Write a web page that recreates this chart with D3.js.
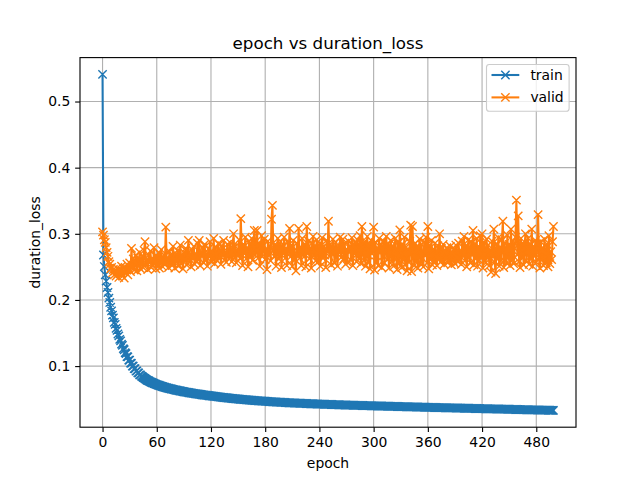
<!DOCTYPE html>
<html><head><meta charset="utf-8">
<script src="https://cdn.jsdelivr.net/npm/d3@7"></script>
<style>body{margin:0;background:#fff}svg{display:block}text{font-family:"DejaVu Sans",sans-serif;fill:#000}</style>
</head><body><svg id="c" width="640" height="480"></svg>
<script>
const chartTitle = "epoch vs duration_loss";
const xLabel = "epoch";
const yLabel = "duration_loss";
const seriesNames = ["train", "valid"];
const xTicks = [0, 60, 120, 180, 240, 300, 360, 420, 480];
const yTicks = [0.1, 0.2, 0.3, 0.4, 0.5];
const trainLoss = [
0.5410,0.2680,0.2505,0.2378,0.2285,0.2188,0.2112,0.2027,0.1962,0.1889,
0.1834,0.1770,0.1729,0.1660,0.1631,0.1570,0.1539,0.1485,0.1456,0.1403,
0.1381,0.1333,0.1314,0.1265,0.1247,0.1203,0.1188,0.1143,0.1139,0.1090,
0.1089,0.1044,0.1041,0.1001,0.0999,0.0961,0.0960,0.0925,0.0927,0.0897,
0.0896,0.0868,0.0867,0.0847,0.0843,0.0827,0.0822,0.0809,0.0803,0.0790,
0.0782,0.0778,0.0769,0.0762,0.0756,0.0748,0.0745,0.0737,0.0731,0.0726,
0.0720,0.0716,0.0710,0.0707,0.0700,0.0697,0.0691,0.0688,0.0683,0.0680,
0.0674,0.0672,0.0667,0.0665,0.0660,0.0658,0.0653,0.0651,0.0647,0.0645,
0.0640,0.0638,0.0635,0.0632,0.0629,0.0627,0.0623,0.0621,0.0618,0.0616,
0.0612,0.0611,0.0607,0.0605,0.0602,0.0601,0.0597,0.0595,0.0593,0.0590,
0.0588,0.0587,0.0583,0.0582,0.0579,0.0578,0.0575,0.0574,0.0571,0.0570,
0.0567,0.0566,0.0563,0.0562,0.0560,0.0558,0.0556,0.0555,0.0552,0.0551,
0.0549,0.0548,0.0545,0.0544,0.0542,0.0541,0.0538,0.0537,0.0535,0.0534,
0.0532,0.0531,0.0528,0.0528,0.0525,0.0524,0.0522,0.0521,0.0519,0.0518,
0.0516,0.0515,0.0513,0.0512,0.0510,0.0509,0.0507,0.0506,0.0505,0.0504,
0.0502,0.0501,0.0499,0.0498,0.0497,0.0496,0.0494,0.0493,0.0492,0.0491,
0.0489,0.0488,0.0487,0.0486,0.0485,0.0484,0.0482,0.0482,0.0480,0.0479,
0.0478,0.0477,0.0476,0.0475,0.0474,0.0473,0.0472,0.0471,0.0470,0.0469,
0.0468,0.0467,0.0466,0.0466,0.0464,0.0464,0.0462,0.0462,0.0460,0.0460,
0.0459,0.0458,0.0457,0.0456,0.0455,0.0455,0.0454,0.0453,0.0452,0.0451,
0.0451,0.0450,0.0449,0.0448,0.0448,0.0447,0.0446,0.0446,0.0445,0.0444,
0.0444,0.0443,0.0442,0.0442,0.0441,0.0440,0.0440,0.0439,0.0438,0.0438,
0.0437,0.0437,0.0436,0.0435,0.0435,0.0434,0.0434,0.0433,0.0432,0.0432,
0.0431,0.0431,0.0430,0.0430,0.0429,0.0428,0.0428,0.0427,0.0427,0.0426,
0.0426,0.0425,0.0425,0.0424,0.0424,0.0423,0.0423,0.0422,0.0422,0.0421,
0.0421,0.0420,0.0420,0.0419,0.0419,0.0418,0.0418,0.0417,0.0417,0.0416,
0.0416,0.0415,0.0415,0.0414,0.0414,0.0414,0.0413,0.0413,0.0412,0.0412,
0.0411,0.0411,0.0410,0.0410,0.0410,0.0409,0.0409,0.0408,0.0408,0.0407,
0.0407,0.0407,0.0406,0.0406,0.0405,0.0405,0.0405,0.0404,0.0404,0.0403,
0.0403,0.0403,0.0402,0.0402,0.0401,0.0401,0.0401,0.0400,0.0400,0.0399,
0.0399,0.0399,0.0398,0.0398,0.0397,0.0397,0.0397,0.0396,0.0396,0.0396,
0.0395,0.0395,0.0394,0.0394,0.0394,0.0393,0.0393,0.0393,0.0392,0.0392,
0.0391,0.0391,0.0391,0.0390,0.0390,0.0390,0.0389,0.0389,0.0388,0.0388,
0.0388,0.0387,0.0387,0.0387,0.0386,0.0386,0.0385,0.0385,0.0385,0.0384,
0.0384,0.0384,0.0383,0.0383,0.0383,0.0382,0.0382,0.0381,0.0381,0.0381,
0.0380,0.0380,0.0380,0.0379,0.0379,0.0379,0.0378,0.0378,0.0377,0.0377,
0.0377,0.0376,0.0376,0.0376,0.0375,0.0375,0.0375,0.0374,0.0374,0.0374,
0.0373,0.0373,0.0373,0.0372,0.0372,0.0372,0.0371,0.0371,0.0371,0.0370,
0.0370,0.0370,0.0369,0.0369,0.0369,0.0368,0.0368,0.0368,0.0367,0.0367,
0.0367,0.0366,0.0366,0.0366,0.0365,0.0365,0.0365,0.0364,0.0364,0.0364,
0.0363,0.0363,0.0363,0.0362,0.0362,0.0362,0.0361,0.0361,0.0361,0.0360,
0.0360,0.0360,0.0359,0.0359,0.0359,0.0358,0.0358,0.0358,0.0357,0.0357,
0.0357,0.0356,0.0356,0.0356,0.0355,0.0355,0.0355,0.0354,0.0354,0.0354,
0.0353,0.0353,0.0353,0.0352,0.0352,0.0352,0.0351,0.0351,0.0351,0.0350,
0.0350,0.0350,0.0349,0.0349,0.0349,0.0348,0.0348,0.0348,0.0347,0.0347,
0.0347,0.0346,0.0346,0.0346,0.0345,0.0345,0.0345,0.0344,0.0344,0.0344,
0.0343,0.0343,0.0343,0.0342,0.0342,0.0342,0.0341,0.0341,0.0341,0.0340,
0.0340,0.0340,0.0339,0.0339,0.0339,0.0338,0.0338,0.0338,0.0337,0.0337,
0.0337,0.0336,0.0336,0.0336,0.0335,0.0335,0.0335,0.0334,0.0334,0.0334,
0.0333,0.0333,0.0333,0.0332,0.0332,0.0332,0.0331,0.0331,0.0331,0.0330
];
const validLoss = [
0.303,0.298,0.291,0.287,0.279,0.272,0.266,0.258,0.254,0.247,
0.249,0.241,0.246,0.238,0.244,0.236,0.248,0.240,0.234,0.245,
0.239,0.251,0.236,0.243,0.233,0.249,0.241,0.254,0.238,0.247,
0.256,0.243,0.278,0.249,0.262,0.245,0.258,0.268,0.244,0.263,
0.251,0.272,0.247,0.259,0.266,0.249,0.275,0.288,0.253,0.261,
0.246,0.268,0.256,0.274,0.249,0.263,0.252,0.279,0.258,0.247,
0.266,0.254,0.271,0.248,0.262,0.276,0.251,0.259,0.268,0.253,
0.310,0.257,0.264,0.249,0.273,0.256,0.267,0.252,0.281,0.261,
0.248,0.269,0.258,0.275,0.251,0.264,0.283,0.255,0.266,0.247,
0.272,0.259,0.278,0.253,0.265,0.290,0.257,0.270,0.250,0.276,
0.262,0.281,0.254,0.268,0.259,0.286,0.264,0.290,0.252,0.273,
0.266,0.279,0.256,0.284,0.261,0.270,0.251,0.277,0.265,0.288,
0.258,0.274,0.262,0.293,0.255,0.280,0.268,0.259,0.285,0.263,
0.276,0.254,0.282,0.267,0.290,0.260,0.273,0.257,0.284,0.269,
0.262,0.287,0.271,0.258,0.279,0.300,0.264,0.281,0.256,0.275,
0.268,0.291,0.263,0.323,0.276,0.252,0.284,0.270,0.295,0.262,
0.279,0.250,0.288,0.271,0.265,0.293,0.260,0.282,0.305,0.268,
0.275,0.305,0.263,0.286,0.251,0.279,0.297,0.266,0.283,0.292,
0.261,0.277,0.246,0.289,0.268,0.282,0.259,0.322,0.343,0.274,
0.266,0.284,0.251,0.279,0.293,0.262,0.275,0.288,0.249,0.281,
0.270,0.295,0.263,0.278,0.252,0.287,0.272,0.308,0.265,0.283,
0.251,0.290,0.274,0.261,0.244,0.286,0.269,0.308,0.263,0.280,
0.252,0.293,0.276,0.265,0.284,0.250,0.311,0.270,0.289,0.262,
0.279,0.248,0.286,0.296,0.267,0.282,0.259,0.291,0.271,0.258,
0.285,0.251,0.278,0.294,0.263,0.281,0.268,0.249,0.290,0.273,
0.319,0.266,0.284,0.253,0.277,0.292,0.270,0.256,0.287,0.275,
0.251,0.283,0.271,0.295,0.264,0.279,0.292,0.262,0.286,0.254,
0.277,0.257,0.289,0.272,0.281,0.260,0.294,0.252,0.283,0.270,
0.286,0.258,0.291,0.275,0.262,0.297,0.255,0.311,0.280,0.260,
0.288,0.251,0.279,0.296,0.258,0.284,0.247,0.290,0.270,0.282,
0.310,0.245,0.287,0.257,0.279,0.252,0.293,0.271,0.284,0.249,
0.276,0.289,0.256,0.281,0.296,0.261,0.285,0.248,0.278,0.290,
0.258,0.282,0.251,0.275,0.293,0.262,0.246,0.287,0.256,0.306,
0.271,0.249,0.284,0.260,0.295,0.253,0.280,0.244,0.277,0.257,
0.289,0.313,0.243,0.311,0.272,0.252,0.286,0.258,0.281,0.248,
0.277,0.292,0.255,0.284,0.263,0.250,0.288,0.267,0.295,0.256,
0.311,0.247,0.283,0.261,0.290,0.253,0.276,0.258,0.286,0.265,
0.252,0.282,0.263,0.300,0.257,0.278,0.260,0.284,0.254,0.274,
0.262,0.279,0.256,0.275,0.259,0.281,0.253,0.272,0.260,0.277,
0.255,0.283,0.264,0.258,0.286,0.262,0.275,0.254,0.289,0.266,
0.296,0.259,0.282,0.250,0.278,0.291,0.264,0.256,0.288,0.268,
0.305,0.253,0.284,0.262,0.293,0.251,0.281,0.260,0.297,0.265,
0.300,0.248,0.287,0.269,0.256,0.292,0.263,0.283,0.252,0.276,
0.242,0.289,0.265,0.307,0.257,0.240,0.285,0.262,0.294,0.251,
0.280,0.260,0.291,0.319,0.249,0.286,0.266,0.256,0.298,0.264,
0.284,0.252,0.307,0.261,0.289,0.255,0.278,0.295,0.351,0.268,
0.327,0.258,0.249,0.293,0.264,0.286,0.253,0.282,0.300,0.260,
0.278,0.293,0.254,0.284,0.262,0.307,0.251,0.281,0.266,0.290,
0.257,0.285,0.329,0.264,0.248,0.288,0.260,0.279,0.252,0.292,
0.265,0.256,0.284,0.250,0.297,0.255,0.273,0.261,0.288,0.311
];
const epochs = trainLoss.map((_, i) => i);
const colors = ["#1f77b4", "#ff7f0e"];

const W = 640, H = 480;
const L = 80, R = 576, T = 57.6, B = 427.2;
const svg = d3.select("#c");

const xExt = d3.extent(epochs);
const xPad = (xExt[1] - xExt[0]) * 0.05;
const x = d3.scaleLinear().domain([xExt[0] - xPad, xExt[1] + xPad]).range([L, R]);
const allY = trainLoss.concat(validLoss);
const yExt = d3.extent(allY);
const yPad = (yExt[1] - yExt[0]) * 0.05;
const y = d3.scaleLinear().domain([yExt[0] - yPad, yExt[1] + yPad]).range([B, T]);

// grid
const grid = svg.append("g").attr("stroke", "#b0b0b0").attr("stroke-width", 1.11);
grid.selectAll("line.vx").data(xTicks).join("line")
  .attr("x1", d => x(d)).attr("x2", d => x(d)).attr("y1", T).attr("y2", B);
grid.selectAll("line.hy").data(yTicks).join("line")
  .attr("y1", d => y(d)).attr("y2", d => y(d)).attr("x1", L).attr("x2", R);

// clip
svg.append("clipPath").attr("id", "clip").append("rect")
  .attr("x", L).attr("y", T).attr("width", R - L).attr("height", B - T);

const series = [trainLoss, validLoss];
const plot = svg.append("g").attr("clip-path", "url(#clip)");
const line = d3.line().x((d, i) => x(epochs[i])).y(d => y(d));
const h = 4.17;
function xMarkers(vals) {
  let p = "";
  vals.forEach((v, i) => {
    const cx = x(epochs[i]), cy = y(v);
    p += `M${cx - h},${cy - h}L${cx + h},${cy + h}M${cx - h},${cy + h}L${cx + h},${cy - h}`;
  });
  return p;
}
series.forEach((vals, k) => {
  const g = plot.append("g");
  g.append("path").attr("d", line(vals)).attr("fill", "none")
    .attr("stroke", colors[k]).attr("stroke-width", 2.08).attr("stroke-linejoin", "round").attr("stroke-linecap", "square");
  g.append("path").attr("d", xMarkers(vals)).attr("fill", "none")
    .attr("stroke", colors[k]).attr("stroke-width", 1.39);
});

// axes
const fs = 13.9;
const xAxis = svg.append("g").attr("transform", `translate(0,${B})`)
  .call(d3.axisBottom(x).tickValues(xTicks).tickSize(4.86).tickPadding(4.86).tickSizeOuter(0).tickFormat(d3.format("d")));
const yAxis = svg.append("g").attr("transform", `translate(${L},0)`)
  .call(d3.axisLeft(y).tickValues(yTicks).tickSize(4.86).tickPadding(4.86).tickSizeOuter(0).tickFormat(d3.format(".1f")));
[xAxis, yAxis].forEach(a => {
  a.select(".domain").remove();
  a.selectAll(".tick line").attr("stroke", "#000").attr("stroke-width", 1.11);
  a.selectAll(".tick text").attr("font-size", fs).attr("font-family", "DejaVu Sans").attr("fill", "#000");
});

// spines
svg.append("rect").attr("x", L).attr("y", T).attr("width", R - L).attr("height", B - T)
  .attr("fill", "none").attr("stroke", "#000").attr("stroke-width", 1.11);

// title & labels
svg.append("text").attr("x", (L + R) / 2).attr("y", 49.3).attr("text-anchor", "middle")
  .attr("font-size", 16.7).text(chartTitle);
svg.append("text").attr("x", (L + R) / 2).attr("y", 468).attr("text-anchor", "middle")
  .attr("font-size", fs).text(xLabel);
svg.append("text").attr("transform", `translate(40,${(T + B) / 2}) rotate(-90)`).attr("text-anchor", "middle")
  .attr("font-size", fs).text(yLabel);

// legend
const lg = svg.append("g");
lg.append("rect").attr("x", 486.5).attr("y", 64.5).attr("width", 82.6).attr("height", 46.8)
  .attr("rx", 2.8).attr("fill", "#fff").attr("fill-opacity", 0.8).attr("stroke", "#cccccc").attr("stroke-width", 1.11);
seriesNames.forEach((name, k) => {
  const cy = 75 + k * 22.4;
  lg.append("line").attr("x1", 491.5).attr("x2", 519.3).attr("y1", cy).attr("y2", cy)
    .attr("stroke", colors[k]).attr("stroke-width", 2.08);
  const mx = 505.4;
  lg.append("path").attr("d", `M${mx - h},${cy - h}L${mx + h},${cy + h}M${mx - h},${cy + h}L${mx + h},${cy - h}`)
    .attr("stroke", colors[k]).attr("stroke-width", 1.39);
  lg.append("text").attr("x", 530.4).attr("y", cy + 5).attr("font-size", fs).text(name);
});
</script></body></html>
